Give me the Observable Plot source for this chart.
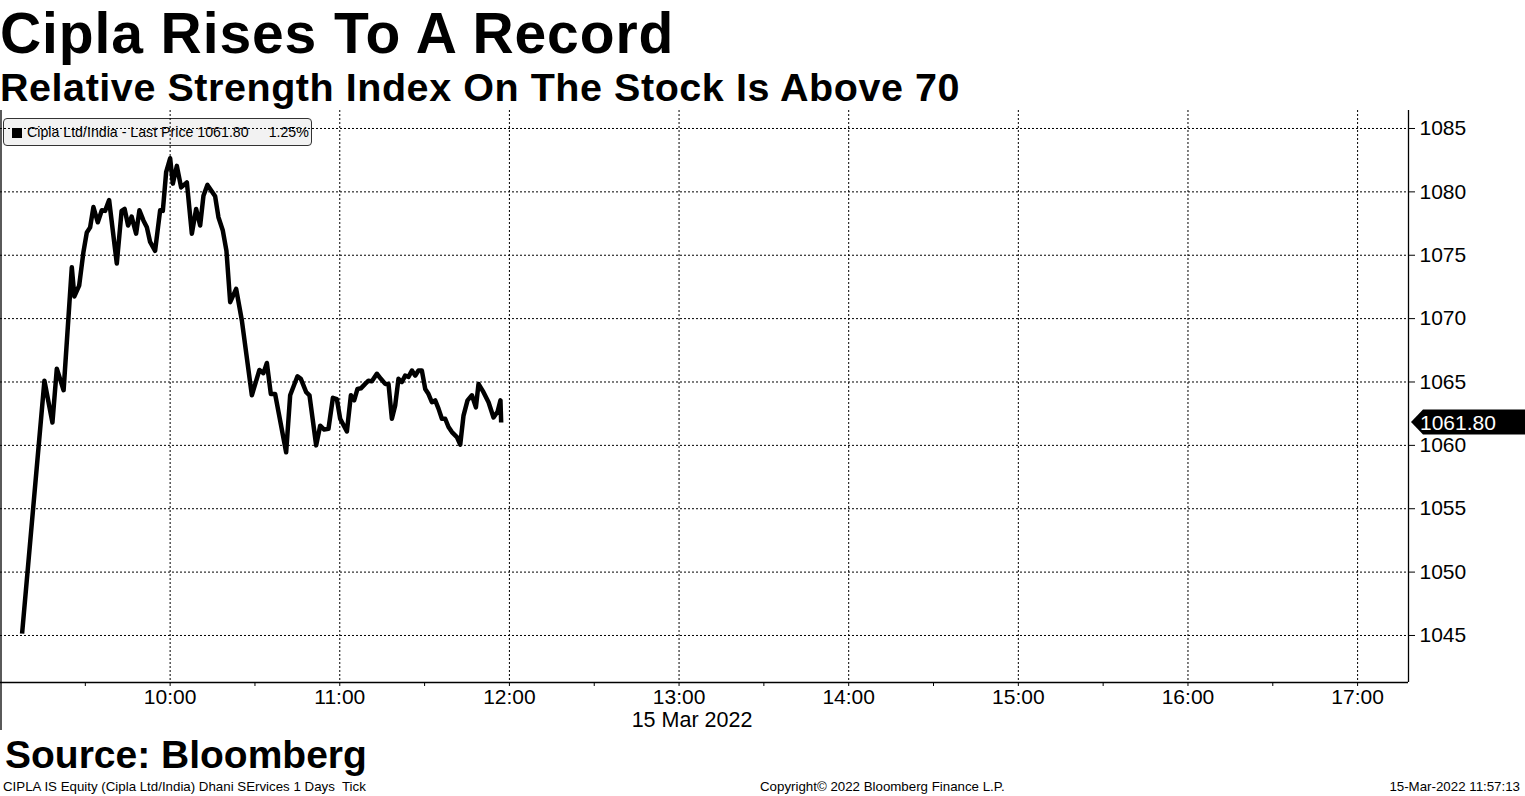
<!DOCTYPE html>
<html><head><meta charset="utf-8">
<script src="https://cdn.jsdelivr.net/npm/d3@7"></script>
<script src="https://cdn.jsdelivr.net/npm/@observablehq/plot@0.6"></script>
<style>
html,body{margin:0;padding:0;background:#fff;}
body{width:1525px;height:796px;overflow:hidden;position:relative;font-family:"Liberation Sans",Arial,sans-serif;color:#000;}
.abs{position:absolute;white-space:nowrap;line-height:1;}
#title{left:0;top:7.5px;font-weight:bold;font-size:57px;line-height:0.9;letter-spacing:0.9px;}
#subtitle{left:0;top:69.5px;font-weight:bold;font-size:39.5px;line-height:0.9;letter-spacing:0.55px;}
#legend{left:3px;top:118px;width:307px;height:26px;border:1px solid #333;border-radius:4px;background:#f2f2f2;z-index:0;}
#legtext{left:12px;top:125px;font-size:14.2px;z-index:1;}
#legtext .sq{display:inline-block;width:10px;height:10px;background:#000;margin-right:5px;vertical-align:-1px;}
#chart{position:absolute;left:0;top:100px;z-index:2;}
#date{left:692px;top:710px;font-size:21.5px;transform:translateX(-50%);}
#source{left:5px;top:735px;font-weight:bold;font-size:39px;}
.foot{top:780px;font-size:13.3px;}
</style></head>
<body>
<div id="title" class="abs">Cipla Rises To A Record</div>
<div id="subtitle" class="abs">Relative Strength Index On The Stock Is Above 70</div>
<div id="legend" class="abs"></div>
<div id="legtext" class="abs"><span class="sq"></span>Cipla Ltd/India - Last Price 1061.80<span style="display:inline-block;width:20px"></span>1.25%</div>
<div id="chart"></div>
<div id="date" class="abs">15 Mar 2022</div>
<div id="source" class="abs">Source: Bloomberg</div>
<div class="abs foot" style="left:3px">CIPLA IS Equity (Cipla Ltd/India) Dhani SErvices 1 Days&nbsp; Tick</div>
<div class="abs foot" style="left:760px">Copyright© 2022 Bloomberg Finance L.P.</div>
<div class="abs foot" style="right:5px">15-Mar-2022 11:57:13</div>
<script>
const day = "2022-03-15";
const times = ["09:07:38","09:15:32","09:18:22","09:19:55","09:22:19","09:25:13","09:26:08","09:27:49","09:29:20","09:30:32",
"09:31:42","09:32:52","09:34:25","09:35:50","09:37:00","09:38:25","09:41:08","09:42:50","09:43:54","09:45:08",
"09:46:23","09:47:58","09:49:08","09:50:33","09:51:46","09:52:55","09:54:41","09:56:28","09:57:25","09:58:35",
"10:00:00","10:00:57","10:02:22","10:03:53","10:05:55","10:07:41","10:09:12","10:10:37","10:11:47","10:13:12",
"10:15:55","10:17:05","10:18:38","10:19:55","10:21:14","10:23:21","10:25:22","10:28:54","10:31:35","10:33:00",
"10:34:13","10:35:37","10:37:08","10:41:02","10:42:27","10:45:02","10:46:14","10:48:07","10:49:17","10:51:39",
"10:53:04","10:54:29","10:56:00","10:57:34","10:58:58","11:00:08","11:02:31","11:03:56","11:05:05","11:06:16",
"11:07:28","11:08:59","11:10:09","11:11:21","11:13:07","11:14:32","11:16:04","11:17:14","11:18:26","11:19:36",
"11:20:46","11:21:58","11:23:08","11:24:18","11:25:31","11:26:40","11:27:50","11:29:02","11:30:13","11:31:23",
"11:32:35","11:33:45","11:34:55","11:36:07","11:37:17","11:38:28","11:39:40","11:41:26","11:42:36","11:43:46",
"11:45:11","11:46:44","11:48:09","11:49:04","11:50:50","11:52:37","11:54:23","11:55:48","11:56:50","11:57:05"];
const prices = [1045.15,1065.10,1061.80,1066.05,1064.35,1074.05,1071.75,1072.60,1075.25,1076.80,
1077.20,1078.80,1077.60,1078.55,1078.50,1079.35,1074.35,1078.50,1078.65,1077.35,
1078.05,1076.70,1078.55,1077.75,1077.20,1076.05,1075.35,1078.55,1078.50,1081.55,
1082.65,1080.65,1082.05,1080.35,1080.75,1076.70,1078.65,1077.35,1079.70,1080.55,
1079.65,1078.00,1076.95,1075.35,1071.30,1072.35,1069.85,1063.95,1065.95,1065.70,
1066.50,1064.05,1064.05,1059.45,1063.95,1065.45,1065.25,1064.20,1063.95,1060.00,
1061.55,1061.25,1061.30,1063.75,1063.65,1062.10,1061.10,1063.95,1063.55,1064.45,
1064.50,1064.85,1065.10,1065.05,1065.65,1065.25,1064.85,1064.85,1062.10,1063.15,
1065.25,1065.00,1065.50,1065.40,1065.90,1065.50,1065.90,1065.90,1064.45,1064.05,
1063.40,1063.55,1062.90,1062.10,1062.10,1061.45,1061.05,1060.65,1060.05,1062.35,
1063.55,1063.95,1063.00,1064.85,1064.20,1063.40,1062.20,1062.65,1063.55,1061.80];
const yTicks = [1045,1050,1055,1060,1065,1070,1075,1080,1085];
const xTickTimes = ["09:30","10:00","10:30","11:00","11:30","12:00","12:30","13:00","13:30","14:00","14:30","15:00","15:30","16:00","16:30","17:00"];
const hourTimes = ["10:00","11:00","12:00","13:00","14:00","15:00","16:00","17:00"];
const xStart = "09:00", xEnd = "17:18";
const yDomain = [1041.29, 1086.42];
const lastLabel = "1061.80";

const T = s => new Date(`${day}T${s.length === 5 ? s + ":00" : s}Z`);
const data = times.map((t, i) => ({time: T(t), price: prices[i]}));
const fmt = d3.utcFormat("%H:%M");

const plot = Plot.plot({
  width: 1525, height: 640,
  marginTop: 10, marginBottom: 58, marginLeft: 0, marginRight: 117,
  style: {fontFamily: '"Liberation Sans", Arial, sans-serif', fontSize: "21px", color: "#000", background: "transparent", overflow: "visible"},
  x: {type: "utc", domain: [T(xStart), T(xEnd)], ticks: xTickTimes.map(T), tickSize: 4, tickPadding: 3,
      tickFormat: d => d.getUTCMinutes() === 0 ? fmt(d) : "", label: null},
  y: {domain: yDomain, axis: "right", ticks: yTicks, tickSize: 6, tickPadding: 5, tickFormat: d => String(d), label: null},
  marks: [
    Plot.ruleY(yTicks, {stroke: "#000", strokeWidth: 1, strokeDasharray: "2,2"}),
    Plot.ruleX(hourTimes.map(T), {stroke: "#000", strokeWidth: 1, strokeDasharray: "2,2"}),
    Plot.ruleX([T(xEnd)], {stroke: "#000", strokeWidth: 1.3}),
    Plot.ruleY([yDomain[0]], {stroke: "#000", strokeWidth: 1.3}),
    Plot.line(data, {x: "time", y: "price", stroke: "#000", strokeWidth: 4.5, strokeLinejoin: "round", strokeLinecap: "butt"})
  ]
});
document.getElementById("chart").appendChild(plot);

// frame left border and last-price tag, placed with the plot's scales
const xs = plot.scale("x"), ys = plot.scale("y");
const svg = d3.select(plot);
const x0 = xs.apply(T(xStart)) + 1;
svg.append("line").attr("x1", x0).attr("x2", x0).attr("y1", 10).attr("y2", 630)
  .attr("stroke", "#000").attr("stroke-width", 1.3);
const yl = ys.apply(prices[prices.length - 1]);
const xr = xs.apply(T(xEnd));
const g = svg.append("g");
g.append("path").attr("d", `M${xr + 3},${yl} L${xr + 15},${yl - 12.5} L1525,${yl - 12.5} L1525,${yl + 12.5} L${xr + 15},${yl + 12.5} Z`).attr("fill", "#000");
g.append("text").attr("x", xr + 12).attr("y", yl).attr("dy", "0.36em").attr("fill", "#fff")
  .attr("text-anchor", "start").style("font-size", "21px").text(lastLabel);
</script>
</body></html>
